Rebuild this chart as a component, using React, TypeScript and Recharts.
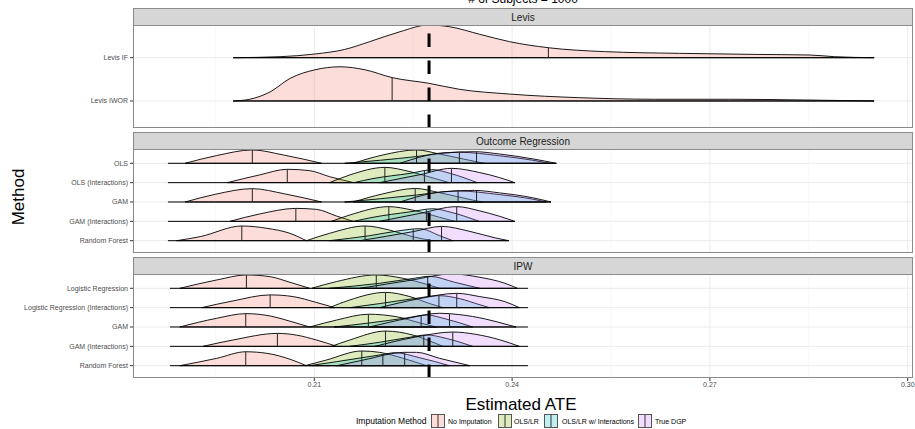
import React from 'react';
import { ComposedChart, Area, XAxis, YAxis, CartesianGrid, ReferenceLine } from 'recharts';

type Pt = [number, number]; // [estimated ATE, ridge height in row units]

const METHODS = ['No Imputation', 'OLS/LR', 'OLS/LR w/ Interactions', 'True DGP'];
const FILLS = ['#F8766D', '#7CAE00', '#00BFC4', '#C77CFF'];
const FONT = '"Liberation Sans", Arial, Helvetica, sans-serif';

const X_DOMAIN: [number, number] = [0.1825, 0.3008];
const X_TICKS = [0.21, 0.24, 0.27, 0.3];
const X_MINOR = [0.195, 0.225, 0.255, 0.285];
const TRUE_ATE = 0.2274;

// ---- Levis (only "No Imputation") ----
const LEVIS_LABELS = ['Levis IF', 'Levis IWOR'];
const LEVIS_IF: Pt[] = [
  [0.1977, 0], [0.2048, 0.023], [0.2101, 0.085], [0.2146, 0.19], [0.2184, 0.37], [0.223, 0.6],
  [0.2273, 0.755], [0.2305, 0.715], [0.2351, 0.54], [0.2396, 0.37], [0.2455, 0.23], [0.254, 0.14],
  [0.2654, 0.1], [0.2767, 0.076], [0.2851, 0.062], [0.2889, 0.023], [0.2949, 0],
];
const LEVIS_IWOR: Pt[] = [
  [0.1977, 0], [0.2002, 0.04], [0.2033, 0.21], [0.2063, 0.52], [0.2101, 0.72], [0.2139, 0.79],
  [0.2177, 0.72], [0.2218, 0.54], [0.2273, 0.41], [0.232, 0.27], [0.2396, 0.16], [0.2502, 0.076],
  [0.2616, 0.04], [0.273, 0.04], [0.2843, 0.023], [0.2949, 0],
];
const LEVIS_MEDIANS = [[0.2455], [0.2218]];
const LEVIS_ENDS: [number, number][] = [[0.1977, 0.2949], [0.1977, 0.2949]];

// ---- Outcome Regression ----
const OR_LABELS = ['OLS', 'OLS (Interactions)', 'GAM', 'GAM (Interactions)', 'Random Forest'];
const OR_OLS: Pt[][] = [
  [[0.1904, 0], [0.1952, 0.4], [0.2006, 0.69], [0.2053, 0.43], [0.2111, 0]],
  [[0.2159, 0], [0.2204, 0.43], [0.2255, 0.69], [0.229, 0.48], [0.2343, 0.1], [0.2358, 0]],
  [[0.2146, 0], [0.2255, 0.35], [0.2295, 0.52], [0.232, 0.57], [0.2381, 0.39], [0.2431, 0.16], [0.2457, 0]],
  [[0.223, 0], [0.2295, 0.54], [0.2343, 0.6], [0.2381, 0.48], [0.2431, 0.23], [0.2467, 0]],
];
const OR_OLS_INT: Pt[][] = [
  [[0.1968, 0], [0.2017, 0.4], [0.2059, 0.69], [0.2093, 0.62], [0.2123, 0.31], [0.216, 0]],
  [[0.2123, 0], [0.2154, 0.4], [0.2207, 0.79], [0.2245, 0.57], [0.2283, 0.21], [0.2305, 0]],
  [[0.216, 0], [0.2189, 0.21], [0.2245, 0.48], [0.228, 0.67], [0.2307, 0.47], [0.2347, 0]],
  [[0.2199, 0], [0.226, 0.41], [0.2308, 0.74], [0.2351, 0.52], [0.2381, 0.26], [0.2404, 0]],
];
const OR_GAM: Pt[][] = [
  [[0.1904, 0], [0.195, 0.4], [0.2006, 0.69], [0.2055, 0.42], [0.2111, 0]],
  [[0.2159, 0], [0.2204, 0.42], [0.2253, 0.7], [0.229, 0.48], [0.234, 0.1], [0.2355, 0]],
  [[0.2146, 0], [0.2255, 0.36], [0.2295, 0.52], [0.2318, 0.57], [0.2381, 0.38], [0.2431, 0.15], [0.2452, 0]],
  [[0.223, 0], [0.2295, 0.53], [0.2343, 0.6], [0.2381, 0.47], [0.2431, 0.22], [0.2459, 0]],
];
const OR_GAM_INT: Pt[][] = [
  [[0.1972, 0], [0.2017, 0.38], [0.2072, 0.67], [0.2103, 0.62], [0.2134, 0.27], [0.2159, 0]],
  [[0.2126, 0], [0.2154, 0.33], [0.2213, 0.76], [0.2249, 0.58], [0.229, 0.21], [0.2313, 0]],
  [[0.216, 0], [0.2189, 0.21], [0.2245, 0.49], [0.228, 0.65], [0.2307, 0.47], [0.235, 0]],
  [[0.2199, 0], [0.226, 0.41], [0.2316, 0.76], [0.2351, 0.54], [0.2381, 0.26], [0.2404, 0]],
];
const OR_RF: Pt[][] = [
  [[0.1891, 0], [0.1927, 0.21], [0.199, 0.76], [0.2028, 0.64], [0.2063, 0.38], [0.2088, 0]],
  [[0.2088, 0], [0.2123, 0.38], [0.2177, 0.76], [0.2214, 0.55], [0.2249, 0.21], [0.2279, 0]],
  [[0.2123, 0], [0.2184, 0.26], [0.223, 0.52], [0.226, 0.62], [0.229, 0.26], [0.231, 0]],
  [[0.2169, 0], [0.225, 0.47], [0.2293, 0.74], [0.2336, 0.48], [0.2375, 0.14], [0.2395, 0]],
];
const OR_MEDIANS = [
  [0.2006, 0.2255, 0.232, 0.2346],
  [0.2059, 0.2207, 0.2267, 0.2308],
  [0.2006, 0.2253, 0.2318, 0.2346],
  [0.2072, 0.2213, 0.227, 0.2316],
  [0.199, 0.2177, 0.225, 0.2293],
];
const OR_ENDS: [number, number][] = [
  [0.1878, 0.2467], [0.1878, 0.2404], [0.1878, 0.2459], [0.1878, 0.2404], [0.1878, 0.2395],
];

// ---- IPW ----
const IPW_LABELS = ['Logistic Regression', 'Logistic Regression (Interactions)', 'GAM', 'GAM (Interactions)', 'Random Forest'];
const IPW_LR: Pt[][] = [
  [[0.1896, 0], [0.1952, 0.43], [0.1997, 0.69], [0.2033, 0.6], [0.2063, 0.31], [0.2093, 0]],
  [[0.2096, 0], [0.2134, 0.35], [0.2194, 0.69], [0.2234, 0.52], [0.227, 0.21], [0.229, 0]],
  [[0.2123, 0], [0.2199, 0.26], [0.2252, 0.52], [0.2275, 0.62], [0.2313, 0.31], [0.2351, 0]],
  [[0.2169, 0], [0.2245, 0.41], [0.2309, 0.74], [0.2351, 0.57], [0.2389, 0.26], [0.2408, 0]],
];
const IPW_LR_INT: Pt[][] = [
  [[0.1929, 0], [0.1977, 0.35], [0.2033, 0.66], [0.2068, 0.57], [0.2103, 0.27], [0.2131, 0]],
  [[0.2123, 0], [0.2154, 0.4], [0.2208, 0.79], [0.2245, 0.57], [0.2275, 0.21], [0.2295, 0]],
  [[0.2154, 0], [0.2199, 0.21], [0.2252, 0.47], [0.2289, 0.62], [0.232, 0.47], [0.235, 0.16], [0.2366, 0]],
  [[0.2199, 0], [0.226, 0.47], [0.2316, 0.74], [0.2351, 0.57], [0.2389, 0.31], [0.2411, 0]],
];
const IPW_GAM: Pt[][] = [
  [[0.1896, 0], [0.1952, 0.45], [0.1996, 0.69], [0.2033, 0.57], [0.2063, 0.3], [0.2093, 0]],
  [[0.2093, 0], [0.2134, 0.36], [0.2182, 0.66], [0.2225, 0.53], [0.226, 0.21], [0.2285, 0]],
  [[0.213, 0], [0.2184, 0.21], [0.224, 0.47], [0.227, 0.62], [0.23, 0.41], [0.234, 0]],
  [[0.2184, 0], [0.2245, 0.47], [0.229, 0.71], [0.232, 0.64], [0.236, 0.41], [0.2395, 0.1], [0.2406, 0]],
];
const IPW_GAM_INT: Pt[][] = [
  [[0.1931, 0], [0.1977, 0.33], [0.2044, 0.67], [0.2073, 0.58], [0.2103, 0.33], [0.2134, 0]],
  [[0.2126, 0], [0.2154, 0.33], [0.2208, 0.79], [0.225, 0.58], [0.228, 0.21], [0.2295, 0]],
  [[0.2154, 0], [0.2199, 0.21], [0.2245, 0.47], [0.227, 0.59], [0.23, 0.41], [0.234, 0]],
  [[0.2192, 0], [0.2252, 0.47], [0.231, 0.74], [0.2345, 0.62], [0.2381, 0.34], [0.2411, 0]],
];
const IPW_RF: Pt[][] = [
  [[0.1896, 0], [0.1952, 0.38], [0.1996, 0.72], [0.2028, 0.64], [0.2065, 0.31], [0.2088, 0]],
  [[0.2086, 0], [0.2118, 0.29], [0.2172, 0.76], [0.2199, 0.69], [0.2235, 0.38], [0.227, 0]],
  [[0.2093, 0], [0.2134, 0.21], [0.2204, 0.58], [0.2222, 0.67], [0.226, 0.41], [0.2305, 0]],
  [[0.2134, 0], [0.2174, 0.29], [0.2237, 0.69], [0.2255, 0.69], [0.229, 0.38], [0.2336, 0]],
];
const IPW_MEDIANS = [
  [0.1997, 0.2194, 0.2272, 0.2309],
  [0.2033, 0.2208, 0.2289, 0.2316],
  [0.1996, 0.2182, 0.2262, 0.2305],
  [0.2044, 0.2208, 0.2266, 0.231],
  [0.1996, 0.2172, 0.2204, 0.2237],
];
const IPW_ENDS: [number, number][] = [
  [0.1881, 0.2424], [0.1881, 0.2424], [0.1881, 0.2424], [0.1881, 0.2424], [0.1881, 0.2424],
];

function heightAt(pts: Pt[], x: number): number {
  for (let i = 1; i < pts.length; i++) {
    const [x0, h0] = pts[i - 1];
    const [x1, h1] = pts[i];
    if (x >= x0 && x <= x1) return h0 + ((h1 - h0) * (x - x0)) / (x1 - x0);
  }
  return 0;
}

interface PanelProps {
  labels: string[]; // top to bottom
  ridges: Pt[][][];
  medians: number[][];
  ends: [number, number][];
  top: number;
  height: number;
  yDomain: [number, number];
  showX?: boolean;
}

function Panel({ labels, ridges, medians, ends, top, height, yDomain, showX }: PanelProps) {
  const n = labels.length;
  const pos = (i: number) => n - i;
  const rowTicks = labels.map((_, i) => pos(i)).reverse();
  const axisH = showX ? 12 : 0;
  // plain text tick so long method names never wrap
  const yTick = (p: any) => (
    <text x={p.x} y={p.y} dy="0.35em" textAnchor="end" fontSize={7} fill="#4D4D4D" fontFamily={FONT}>
      {labels[n - p.payload.value]}
    </text>
  );
  return (
    <div style={{ position: 'absolute', left: 0, top }}>
      <ComposedChart width={915} height={height + axisH} margin={{ top: 0, right: 2, bottom: 0, left: 0 }}>
        <CartesianGrid verticalValues={X_MINOR} horizontal={false} stroke="#F2F2F2" strokeWidth={0.6} />
        <CartesianGrid verticalValues={X_TICKS} horizontalValues={rowTicks} stroke="#EBEBEB" strokeWidth={1} />
        <XAxis
          type="number"
          dataKey="x"
          domain={X_DOMAIN}
          ticks={X_TICKS}
          allowDataOverflow
          hide={!showX}
          height={axisH}
          axisLine={false}
          tickSize={3}
          tickMargin={1}
          tickLine={{ stroke: '#333' }}
          tick={{ fontSize: 7, fill: '#4D4D4D', fontFamily: FONT }}
          tickFormatter={(v: number) => v.toFixed(2)}
          interval={0}
        />
        <YAxis
          type="number"
          domain={yDomain}
          ticks={rowTicks}
          allowDataOverflow
          width={133}
          axisLine={false}
          tickSize={3}
          tickMargin={2}
          tickLine={{ stroke: '#333' }}
          interval={0}
          tick={yTick}
        />
        {ridges.map((row, i) =>
          row.map((pts, k) => (
            <Area
              key={`a-${i}-${k}`}
              data={pts.map(([x, h]) => ({ x, band: [pos(i), pos(i) + h] }))}
              dataKey="band"
              type="monotone"
              stroke="#000"
              strokeWidth={0.9}
              fill={FILLS[k]}
              fillOpacity={0.25}
              dot={false}
              activeDot={false}
              isAnimationActive={false}
            />
          )),
        )}
        {ends.map(([a, b], i) => (
          <ReferenceLine
            key={`b-${i}`}
            segment={[{ x: a, y: pos(i) }, { x: b, y: pos(i) }]}
            stroke="#000"
            strokeWidth={1}
          />
        ))}
        {medians.map((row, i) =>
          row.map((m, k) => (
            <ReferenceLine
              key={`m-${i}-${k}`}
              segment={[{ x: m, y: pos(i) }, { x: m, y: pos(i) + heightAt(ridges[i][k], m) }]}
              stroke="#222"
              strokeWidth={1}
            />
          )),
        )}
        <ReferenceLine
          segment={[{ x: TRUE_ATE, y: yDomain[0] }, { x: TRUE_ATE, y: yDomain[1] }]}
          stroke="#000"
          strokeWidth={3}
          strokeDasharray="13.5 13.5"
        />
      </ComposedChart>
    </div>
  );
}

const PANEL_L = 133;
const PANEL_W = 780;
const STRIPS = [
  { title: 'Levis', top: 8, panelTop: 25, panelH: 103 },
  { title: 'Outcome Regression', top: 132, panelTop: 149, panelH: 104 },
  { title: 'IPW', top: 257, panelTop: 274, panelH: 104 },
];

export default function App() {
  const legendX = [431, 498, 544, 638];
  const legendTextX = [448, 514, 562, 655];
  return (
    <div style={{ position: 'absolute', left: 0, top: 0, width: 915, height: 429, overflow: 'hidden', background: '#fff', fontFamily: FONT }}>
      <Panel
        labels={LEVIS_LABELS}
        ridges={[[LEVIS_IF], [LEVIS_IWOR]]}
        medians={LEVIS_MEDIANS}
        ends={LEVIS_ENDS}
        top={25}
        height={103}
        yDomain={[0.376, 2.755]}
      />
      <Panel
        labels={OR_LABELS}
        ridges={[OR_OLS, OR_OLS_INT, OR_GAM, OR_GAM_INT, OR_RF]}
        medians={OR_MEDIANS}
        ends={OR_ENDS}
        top={149}
        height={104}
        yDomain={[0.364, 5.739]}
      />
      <Panel
        labels={IPW_LABELS}
        ridges={[IPW_LR, IPW_LR_INT, IPW_GAM, IPW_GAM_INT, IPW_RF]}
        medians={IPW_MEDIANS}
        ends={IPW_ENDS}
        top={274}
        height={104}
        yDomain={[0.364, 5.739]}
        showX
      />
      <svg width={915} height={429} style={{ position: 'absolute', left: 0, top: 0, pointerEvents: 'none' }}>
        <text x={523} y={3} textAnchor="middle" fontSize={12} fill="#000">
          # of Subjects = 1000
        </text>
        {STRIPS.map((s) => (
          <g key={s.title}>
            <rect x={PANEL_L + 0.5} y={s.top + 0.5} width={PANEL_W - 1} height={s.panelTop - s.top} fill="#D6D6D6" stroke="#8A8A8A" strokeWidth={1} />
            <text x={PANEL_L + PANEL_W / 2} y={s.top + 12.5} textAnchor="middle" fontSize={10} fill="#1A1A1A">
              {s.title}
            </text>
            <rect x={PANEL_L + 0.5} y={s.panelTop + 0.5} width={PANEL_W - 1} height={s.panelH - 1} fill="none" stroke="#8A8A8A" strokeWidth={1} />
          </g>
        ))}
        <text x={24} y={197} textAnchor="middle" fontSize={17} fill="#000" transform="rotate(-90 24 197)">
          Method
        </text>
        <text x={521} y={410} textAnchor="middle" fontSize={17} fill="#000">
          Estimated ATE
        </text>
        <text x={356} y={424} fontSize={8.5} fill="#000">Imputation Method</text>
        {METHODS.map((m, k) => (
          <g key={m}>
            <rect x={legendX[k] + 0.5} y={414.5} width={13} height={13} fill={FILLS[k]} fillOpacity={0.25} stroke="#555" strokeWidth={1} />
            <line x1={legendX[k] + 7} x2={legendX[k] + 7} y1={415} y2={427} stroke="#333" strokeWidth={1} />
            <text x={legendTextX[k]} y={423.5} fontSize={7} fill="#000">{m}</text>
          </g>
        ))}
      </svg>
    </div>
  );
}
